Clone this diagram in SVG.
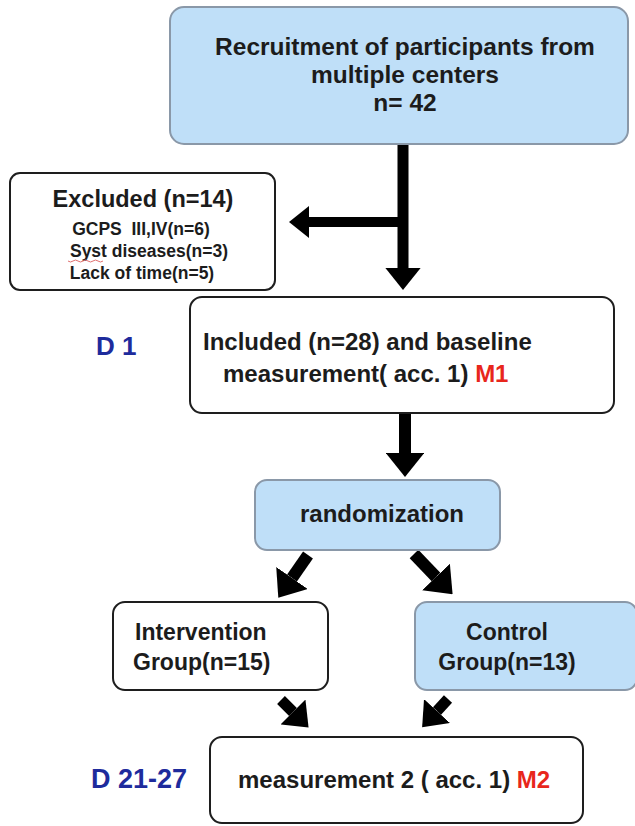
<svg xmlns="http://www.w3.org/2000/svg" width="635" height="826" viewBox="0 0 635 826">
<style>
text{font-family:"Liberation Sans",Arial,Helvetica,sans-serif;font-weight:bold;fill:#1c1c1c}
.blue{fill:#bfdff8;stroke:#8a98a8;stroke-width:2}
.white{fill:#ffffff;stroke:#1e1e1e;stroke-width:2}
.arr{stroke:#000;fill:none;marker-end:url(#head)}
.red{fill:#e8261c}
.day{fill:#1e2b9c}
.c{text-anchor:middle}
</style>
<defs>
<marker id="head" viewBox="0 0 2 3.2" markerWidth="2" markerHeight="3.2" refX="0" refY="1.6" orient="auto" markerUnits="strokeWidth">
<path d="M0,0 L2,1.6 L0,3.2 z" fill="#000"/>
</marker>
</defs>
<rect width="635" height="826" fill="#fff"/>
<g id="connectors">
<line class="arr" x1="403" y1="143" x2="403" y2="268" stroke-width="11"/>
<line class="arr" x1="403" y1="222" x2="309" y2="222" stroke-width="10"/>
<line class="arr" x1="405" y1="413" x2="405" y2="453" stroke-width="12"/>
<line class="arr" x1="308" y1="555" x2="292" y2="578" stroke-width="12"/>
<line class="arr" x1="414" y1="554" x2="436" y2="577" stroke-width="12"/>
<line class="arr" x1="281" y1="700" x2="293" y2="712" stroke-width="11"/>
<line class="arr" x1="448" y1="699" x2="437" y2="711" stroke-width="11"/>
</g>
<g id="recruitment">
<rect class="blue" x="170" y="7" width="458" height="137" rx="14"/>
<text class="c" x="405" y="55" font-size="24.5">Recruitment of participants from</text>
<text class="c" x="405" y="83" font-size="24.5">multiple centers</text>
<text class="c" x="405" y="111" font-size="24.5">n= 42</text>
</g>
<g id="excluded">
<rect class="white" x="10" y="173" width="265" height="117" rx="10"/>
<text class="c" x="143" y="207" font-size="23.5">Excluded (n=14)</text>
<text class="c" x="141" y="235" font-size="17.5" xml:space="preserve">GCPS  III,IV(n=6)</text>
<text class="c" x="149" y="257" font-size="17.5">Syst diseases(n=3)</text>
<path d="M68,261 q2.5,2 5,0 t5,0 t5,0 t5,0 t5,0 t5,0 t5,0" fill="none" stroke="#e07070" stroke-width="1"/>
<text class="c" x="142" y="279" font-size="17.5">Lack of time(n=5)</text>
</g>
<g id="included">
<rect class="white" x="190" y="297" width="424" height="116" rx="12"/>
<text x="203" y="350" font-size="24">Included (n=28) and baseline</text>
<text x="223" y="382" font-size="24">measurement( acc. 1) <tspan class="red">M1</tspan></text>
</g>
<text id="d1" class="day" x="96" y="355" font-size="26">D 1</text>
<g id="randomization">
<rect class="blue" x="255" y="480" width="245" height="70" rx="12"/>
<text class="c" x="382" y="522" font-size="24">randomization</text>
</g>
<g id="intervention">
<rect class="white" x="113" y="602" width="215" height="88" rx="12"/>
<text x="135" y="640" font-size="23">Intervention</text>
<text x="133" y="670" font-size="23">Group(n=15)</text>
</g>
<g id="control">
<rect class="blue" x="415" y="602" width="222" height="88" rx="12"/>
<text class="c" x="507" y="640" font-size="23">Control</text>
<text class="c" x="507" y="670" font-size="23">Group(n=13)</text>
</g>
<g id="measurement2">
<rect class="white" x="210" y="737" width="373" height="86" rx="12"/>
<text x="238" y="788" font-size="24">measurement 2 ( acc. 1) <tspan class="red">M2</tspan></text>
</g>
<text id="d21" class="day" x="91" y="788" font-size="27">D 21-27</text>
</svg>
